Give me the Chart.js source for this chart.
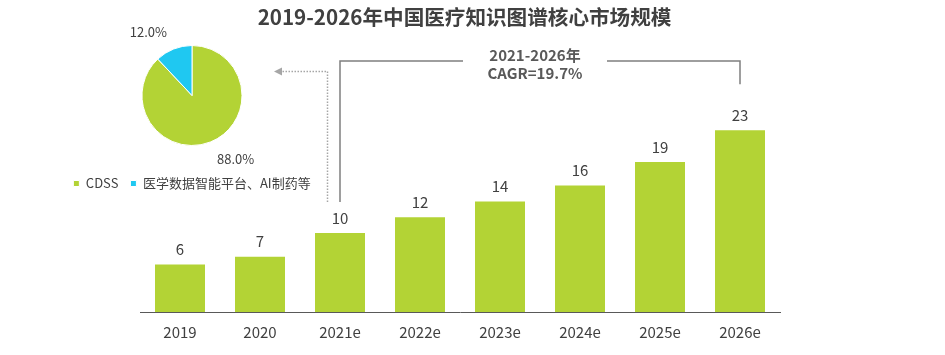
<!DOCTYPE html>
<html><head><meta charset="utf-8">
<script src="https://cdn.jsdelivr.net/npm/chart.js@4/dist/chart.umd.min.js"></script>
<style>
html,body{margin:0;padding:0;background:#fff;}
#wrap{position:relative;width:945px;height:355px;overflow:hidden;background:#fff;}
.box{position:absolute;left:0;top:0;}
</style></head><body>
<div id="wrap">
  <div class="box"><canvas id="bar" width="945" height="355"></canvas></div>
  <div class="box"><canvas id="pie" width="384" height="200"></canvas></div>
</div>
<script>
const chartTitle = '2019-2026年中国医疗知识图谱核心市场规模';
const years = ['2019','2020','2021e','2022e','2023e','2024e','2025e','2026e'];
const marketSize = [6,7,10,12,14,16,19,23];
const cagrLines = ['2021-2026年','CAGR=19.7%'];
const cagrFrom = '2021e';
const cagrTo = '2026e';
const pieLabels = ['CDSS','医学数据智能平台、AI制药等'];
const pieShares = [88.0, 12.0];

const GREEN = '#b3d335', CYAN = '#1fc8f1';
const TEXT = '#404040';
const FONT = '"Noto Sans CJK SC","Noto Sans",sans-serif';

const barLabels = {
  id:'barLabels',
  afterDatasetsDraw(chart){
    const ctx = chart.ctx;
    const meta = chart.getDatasetMeta(0);
    ctx.save();
    ctx.font = '15px ' + FONT;
    ctx.fillStyle = TEXT;
    ctx.textAlign = 'center';
    ctx.textBaseline = 'middle';
    meta.data.forEach((bar, i) => {
      ctx.fillText(String(marketSize[i]), bar.x, bar.y - 15);
    });
    ctx.restore();
  }
};

const annotations = {
  id:'annotations',
  afterDraw(chart){
    const ctx = chart.ctx;
    const xs = chart.scales.x;
    const meta = chart.getDatasetMeta(0);
    const iL = years.indexOf(cagrFrom), iR = years.indexOf(cagrTo);
    const xL = xs.getPixelForValue(iL), xR = xs.getPixelForValue(iR);
    const topY = 61;
    const leftEnd = meta.data[iL].y - 31;
    const rightEnd = meta.data[iR].y - 46;
    const cx = (xL + xR) / 2 - 5;
    ctx.save();
    // title
    ctx.font = 'bold 20.6px ' + FONT;
    ctx.fillStyle = TEXT;
    ctx.textAlign = 'center';
    ctx.textBaseline = 'middle';
    ctx.fillText(chartTitle, chart.width / 2 - 8, 17);
    // bracket
    ctx.strokeStyle = '#7f7f7f';
    ctx.lineWidth = 1.5;
    ctx.beginPath();
    ctx.moveTo(xL, leftEnd); ctx.lineTo(xL, topY); ctx.lineTo(cx - 72, topY);
    ctx.moveTo(cx + 72, topY); ctx.lineTo(xR, topY); ctx.lineTo(xR, rightEnd);
    ctx.stroke();
    // CAGR text
    ctx.font = 'bold 15px ' + FONT;
    ctx.fillStyle = '#595959';
    ctx.fillText(cagrLines[0], cx, 55);
    ctx.fillText(cagrLines[1], cx, 73);
    // dotted arrow to pie
    const dx = xL - 12.5;
    ctx.strokeStyle = '#a6a6a6';
    ctx.lineWidth = 1.5;
    ctx.setLineDash([1.5, 1.5]);
    ctx.beginPath();
    ctx.moveTo(dx, leftEnd); ctx.lineTo(dx, 71.5); ctx.lineTo(281, 71.5);
    ctx.stroke();
    ctx.setLineDash([]);
    ctx.fillStyle = '#a6a6a6';
    ctx.beginPath();
    ctx.moveTo(274, 71.5); ctx.lineTo(282, 67.5); ctx.lineTo(282, 75.5); ctx.closePath();
    ctx.fill();
    ctx.restore();
  }
};

new Chart(document.getElementById('bar'), {
  type:'bar',
  data:{ labels: years, datasets:[{ data: marketSize, backgroundColor: GREEN, borderWidth:0, barPercentage:0.625, categoryPercentage:1 }] },
  options:{
    responsive:false, animation:false, devicePixelRatio:1,
    layout:{ padding:{ top:75, left:140, right:165, bottom:0 } },
    plugins:{ legend:{display:false}, tooltip:{enabled:false}, title:{display:false} },
    scales:{
      x:{
        grid:{ display:false, drawTicks:false },
        border:{ display:true, color:'#595959', width:1 },
        ticks:{ color: TEXT, font:{ family: FONT, size:15 }, padding:11 },
        afterFit(s){ s.height = 43; }
      },
      y:{ display:false, min:0, max:30 }
    }
  },
  plugins:[barLabels, annotations]
});

const pieValueLabels = {
  id:'pieValueLabels',
  afterDatasetsDraw(chart){
    const ctx = chart.ctx;
    const meta = chart.getDatasetMeta(0);
    ctx.save();
    ctx.font = '13px ' + FONT;
    ctx.fillStyle = TEXT;
    ctx.textAlign = 'center';
    ctx.textBaseline = 'middle';
    meta.data.forEach((arc, i) => {
      const mid = (arc.startAngle + arc.endAngle) / 2;
      const txt = pieShares[i].toFixed(1) + '%';
      const w = ctx.measureText(txt).width;
      const c = Math.cos(mid), s = Math.sin(mid);
      const r = arc.outerRadius + 18;
      ctx.fillText(txt, arc.x + r * c + Math.sign(c) * w / 2, arc.y + r * s);
    });
    ctx.restore();
  }
};

new Chart(document.getElementById('pie'), {
  type:'pie',
  data:{ labels: pieLabels, datasets:[{ data: pieShares, backgroundColor:[GREEN, CYAN], borderWidth:1, borderColor:'#ffffff', radius:50 }] },
  options:{
    responsive:false, animation:false, devicePixelRatio:1,
    layout:{ padding:{ top:26, bottom:0, left:0, right:0 } },
    plugins:{
      tooltip:{enabled:false},
      legend:{ position:'bottom', labels:{ boxWidth:6, boxHeight:6, padding:12, color: TEXT, font:{ family: FONT, size:13 } } }
    }
  },
  plugins:[pieValueLabels]
});
</script>
</body></html>
